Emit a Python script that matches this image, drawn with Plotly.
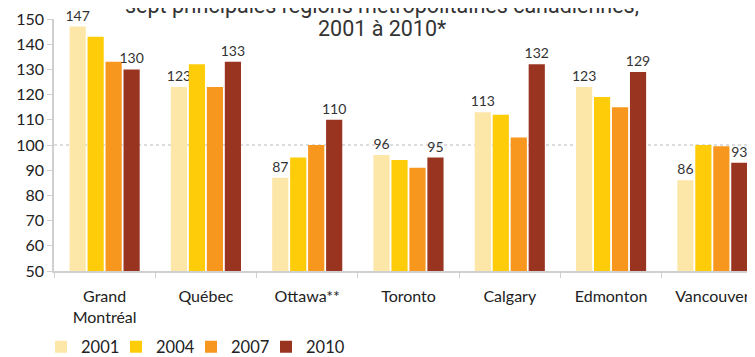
import plotly.graph_objects as go

categories = ["Grand<br>Montréal", "Québec", "Ottawa**", "Toronto", "Calgary", "Edmonton", "Vancouver"]
years = ["2001", "2004", "2007", "2010"]
v2001 = [147, 123, 87, 96, 113, 123, 86]
v2004 = [143, 132, 95, 94, 112, 119, 100]
v2007 = [133, 123, 100, 91, 103, 115, 99.5]
v2010 = [130, 133, 110, 95, 132, 129, 93]
series = [v2001, v2004, v2007, v2010]
colors = ["#FDE7A8", "#FECC09", "#F7971E", "#993421"]
show_labels = [True, False, False, True]
title_lines = ["sept principales régions métropolitaines canadiennes,", "2001 à 2010*"]

FONT = "Lato, 'Open Sans', sans-serif"

fig = go.Figure()
for name, vals, col, lab in zip(years, series, colors, show_labels):
    fig.add_trace(go.Bar(
        x=categories, y=vals, name=name, marker=dict(color=col, line=dict(width=0)),
        text=[str(round(v)) for v in vals] if lab else None,
        textposition="outside" if lab else "none",
        constraintext="none",
        textfont=dict(size=14, color="#333333", family=FONT),
        cliponaxis=False,
    ))
# transparent spacer entry so the last legend label is not clipped
fig.add_trace(go.Scatter(x=[None], y=[None], mode="markers", name=" ",
                         marker=dict(color="rgba(0,0,0,0)"), hoverinfo="skip"))

fig.add_hline(y=100, line=dict(color="#BBBBBB", width=1, dash="dot"), layer="below")

# title lines (bottom pixel in figure coords)
for line, bottom_px in zip(title_lines, [12.0, 35.5]):
    fig.add_annotation(
        text=line,
        xref="paper", yref="paper", x=(374 - 46) / 709, y=1 + (11 - bottom_px) / 252,
        xanchor="center", yanchor="bottom", showarrow=False,
        font=dict(family="'Roboto', sans-serif", size=21.5, color="#333333"),
    )

fig.update_layout(
    width=755, height=357,
    margin=dict(l=46, r=0, t=11, b=94, autoexpand=False),
    paper_bgcolor="white", plot_bgcolor="white",
    barmode="group", bargap=0.29, bargroupgap=0.1,
    font=dict(family=FONT, color="#222222"),
    xaxis=dict(
        range=[-0.5, 6.5], showline=True, linecolor="#D0D0D0", linewidth=1.5,
        ticks="outside", tickson="boundaries", ticklen=5, tickcolor="#D0D0D0",
        tickfont=dict(size=16, color="#222222"), showgrid=False,
        ticklabelstandoff=10,
    ),
    yaxis=dict(
        range=[50, 150], tickvals=list(range(50, 151, 10)), showline=True,
        linecolor="#D0D0D0", linewidth=1.5, ticks="outside", ticklen=5, tickcolor="#D0D0D0",
        tickfont=dict(size=16, color="#222222"), showgrid=False, zeroline=False,
    ),
    legend=dict(
        orientation="h", xref="container", x=33 / 755, xanchor="left",
        y=-0.232, yanchor="top",
        font=dict(size=16.5, color="#222222"), entrywidth=30, traceorder="normal",
    ),
)

fig.write_html("out.html")
